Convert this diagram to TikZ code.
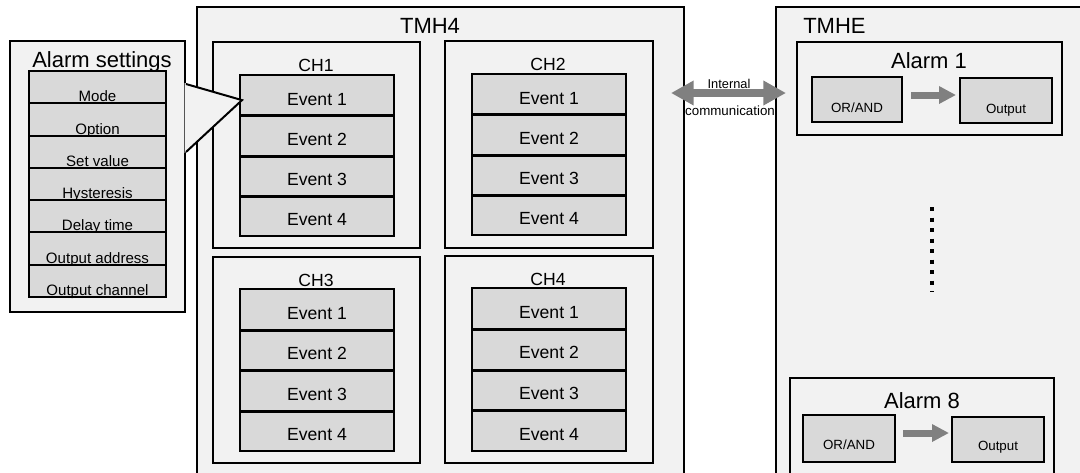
\documentclass[tikz,border=0pt]{standalone}
\usepackage{fontspec}
\setmainfont{Liberation Sans}
\usetikzlibrary{fit,arrows.meta,calc}
\definecolor{boxbg}{HTML}{F2F2F2}
\definecolor{cellbg}{HTML}{D9D9D9}
\definecolor{arrowgray}{HTML}{808080}
\tikzset{
 frame/.style={draw=black, line width=1.5pt, fill=boxbg, inner sep=0pt, fit={#1}},
 cell/.style={draw=black, line width=1.5pt, fill=cellbg, inner sep=0pt, fit={#1}},
 bigtxt/.style={font=\fontsize{16.5}{18}\selectfont, anchor=base, inner sep=0pt},
 midtxt/.style={font=\fontsize{13.2}{15}\selectfont, anchor=base, inner sep=0pt},
 settxt/.style={font=\fontsize{11.3}{13}\selectfont, anchor=base, inner sep=0pt},
 smalltxt/.style={font=\fontsize{10}{12}\selectfont, anchor=base, inner sep=0pt},
 fatarrow/.style={draw=arrowgray, line width=5.25pt, -{Triangle[length=12.75pt,width=12.5pt]}},
 commarrow/.style={draw=arrowgray, line width=5.5pt, {Triangle[length=17pt,width=17.5pt]}-{Triangle[length=17pt,width=17.5pt]}},
}
\newcommand\evstack[5]{%
 \foreach \i in {1,...,4}{%
   \pgfmathsetmacro\ya{#4+(\i-1)*(#5-#4)/4}%
   \pgfmathsetmacro\yb{#4+\i*(#5-#4)/4}%
   \pgfmathsetmacro\xm{(#2+#3)/2}%
   \node[cell={(#2,\ya)(#3,\yb)}] (#1e\i) {};
   \node[midtxt] (#1e\i t) at (\xm,\ya+30) {Event \i};
 }
 \foreach \i in {1,2,3}{\draw[line width=1.5pt] (#1e\i.south west) -- (#1e\i.south east);}
}
\begin{document}
\begin{tikzpicture}[x=0.75pt,y=-0.75pt]
\clip (0,0) rectangle (1080,472);
\fill[white] (0,0) rectangle (1080,472);

% TMH4
\node[frame={(197,7)(684,480)}] (tmh4) {};
\node[bigtxt] (tmh4t) at (430,33) {TMH4};
\node[frame={(213,42)(420,248)}] (ch1) {};
\node[frame={(445,41)(653,248)}] (ch2) {};
\node[frame={(213,257)(420,463)}] (ch3) {};
\node[frame={(445,256)(653,463)}] (ch4) {};
\node[midtxt] (ch1t) at (316,71) {CH1};
\node[midtxt] (ch2t) at (548,70) {CH2};
\node[midtxt] (ch3t) at (316,286) {CH3};
\node[midtxt] (ch4t) at (548,285) {CH4};
\evstack{c1}{240}{394}{75}{236}
\evstack{c2}{472}{626}{74}{235}
\evstack{c3}{240}{394}{289}{451}
\evstack{c4}{472}{626}{288}{451}

% TMHE
\node[frame={(776,7)(1095,480)}] (tmhe) {};
\node[bigtxt, anchor=base west] (tmhet) at (803,33) {TMHE};
\node[frame={(797,42)(1062,135)}] (al1) {};
\node[bigtxt] (al1t) at (929,68) {Alarm 1};
\node[cell={(812,77)(902,122)}] (orand1) {};
\node[cell={(960,78)(1052,123)}] (out1) {};
\node[smalltxt] (orand1t) at (857,112) {OR/AND};
\node[smalltxt] (out1t) at (1006,113) {Output};
\draw[fatarrow] ($(orand1.east)+(8,-4.5)$) coordinate (a1s) -- ($(out1.west |- a1s)+(-3,0)$);

\draw[line width=3pt, dash pattern=on 3pt off 4.875pt] (932,207) -- (932,292);

\node[frame={(790,378)(1054,485)}] (al8) {};
\node[bigtxt] (al8t) at (922,408) {Alarm 8};
\node[cell={(803,415)(895,462)}] (orand8) {};
\node[cell={(952,417)(1044,462)}] (out8) {};
\node[smalltxt] (orand8t) at (849,449) {OR/AND};
\node[smalltxt] (out8t) at (998,450) {Output};
\draw[fatarrow] ($(orand8.east)+(7,-5.5)$) coordinate (a8s) -- ($(out8.west |- a8s)+(-2,0)$);

% internal communication
\coordinate (icl) at ($(tmh4.north east)+(-14,87)$);
\coordinate (icr) at ($(tmhe.north west)+(11,87)$);
\draw[commarrow] (icl) -- (icr);
\node[font=\fontsize{9.6}{11}\selectfont, anchor=base, inner sep=0pt] (ict1) at (729,88) {Internal};
\node[font=\fontsize{10}{12}\selectfont, anchor=base, inner sep=0pt] (ict2) at (730,115) {communication};

% Alarm settings
\node[frame={(10,41)(185,312)}] (settings) {};
\node[bigtxt] (settingst) at (102,67) {Alarm settings};
\foreach \lab [count=\i] in {Mode,Option,Set value,Hysteresis,Delay time,Output address,Output channel}{%
  \pgfmathsetmacro\ya{71+(\i-1)*32.29}%
  \pgfmathsetmacro\yb{71+\i*32.29}%
  \node[cell={(29,\ya)(166,\yb)}] (s\i) {};
  \node[settxt] (s\i t) at (97.5,\yb-1.5) {\lab};
}
% callout
\coordinate (cu) at ($(settings.north east)+(0,44)$);
\coordinate (cl) at ($(settings.north east)+(0,112)$);
\coordinate (ctip) at ($(c1e1.west)+(3,5)$);
\fill[boxbg] ($(cu)+(-1.5,-1)$) -- (ctip) -- ($(cl)+(-1.5,1)$) -- cycle;
\draw[line width=1.5pt, line join=miter] (cu) -- (ctip) -- (cl);
\end{tikzpicture}
\end{document}
